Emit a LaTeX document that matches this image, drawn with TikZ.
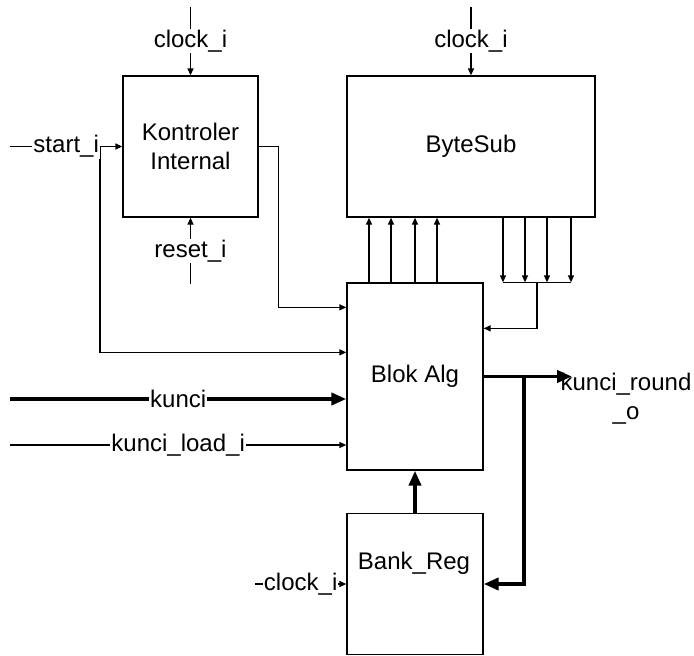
\documentclass[tikz,border=0pt]{standalone}
\usepackage{fontspec}
\setmainfont{Liberation Sans}
\usetikzlibrary{arrows.meta,calc,positioning}
\tikzset{
  blk/.style={draw,line width=1.3pt,inner sep=0pt},
  sig/.style={line width=1.3pt,-{Triangle[length=7pt,width=6pt]}},
  wire/.style={line width=1.3pt},
  bus/.style={line width=3.8pt,-{Triangle[length=15pt,width=12pt]}},
  lbl/.style={fill=white,inner sep=1pt},
  every node/.style={font=\fontsize{24}{29}\selectfont}
}
\begin{document}
\begin{tikzpicture}[x=1pt,y=-1pt]
\useasboundingbox (0,0) rectangle (694,656);
% blocks
\node[blk,minimum width=135pt,minimum height=141pt,align=center] (kont) at (190.5,146.5) {Kontroler\\Internal};
\node[blk,minimum width=248pt,minimum height=141pt] (bsub) at (471,146.5) {ByteSub};
\node[blk,minimum width=136pt,minimum height=187pt] (blok) at (415,376.5) {Blok Alg};
\node[blk,minimum width=136pt,minimum height=141pt] (bank) at (415,584) {};
\node (banktxt) at (414,563) {Bank\_Reg};
% free ends
\coordinate (kclk) at (190.5,7);
\coordinate (bclk) at (471,7);
\coordinate (krst) at (190.5,284);
\coordinate (sin) at (10,146.5);
\coordinate (stap) at (100,146.5);
\coordinate (kin) at (10,399);
\coordinate (klin) at (10,445);
\coordinate (kout) at (572,376.5);
\coordinate (tap) at (524,376.5);
\coordinate (rclk) at (255,584);
% control inputs
\draw[sig] (kclk) -- node[lbl] (kclklbl) {clock\_i} (kont.north);
\draw[sig] (bclk) -- node[lbl] (bclklbl) {clock\_i} (bsub.north);
\draw[sig] (krst) -- node[lbl] (rstlbl) {reset\_i} (kont.south);
\draw[sig] (stap) |- ($(blok.north west)+(0,70)$);
\draw[sig] (sin) -- node[lbl] (startlbl) {start\_i} (kont.west);
\draw[sig] (kont.east) -- ++(20,0) |- ($(blok.north west)+(0,25)$);
% bytesub buses
\foreach \x in {369,391,415,437} {
  \draw[sig] (blok.north -| \x,0) -- (bsub.south -| \x,0);
}
\foreach \x in {503,525,547,571} {
  \draw[sig] (bsub.south -| \x,0) -- (blok.north -| \x,0);
}
\draw[wire] (blok.north -| 503,0) -- (blok.north -| 571,0);
\draw[sig] (blok.north -| 537,0) |- ($(blok.north east)+(0,46)$);
% key inputs
\draw[bus] (kin) -- node[lbl] (kuncilbl) {kunci} (blok.west |- kin);
\draw[sig] (klin) -- node[lbl] (klbl) {kunci\_load\_i} (blok.west |- klin);
% output and register
\draw[bus] (blok.east) -- (kout);
\node[align=center] (koutlbl) at (626,399) {kunci\_round\\\_o};
\draw[bus] (tap) |- (bank.east);
\draw[bus] (bank.north) -- (blok.south);
\draw[sig] (rclk) -- node[lbl] (rclklbl) {clock\_i} (bank.west);
\end{tikzpicture}
\end{document}
